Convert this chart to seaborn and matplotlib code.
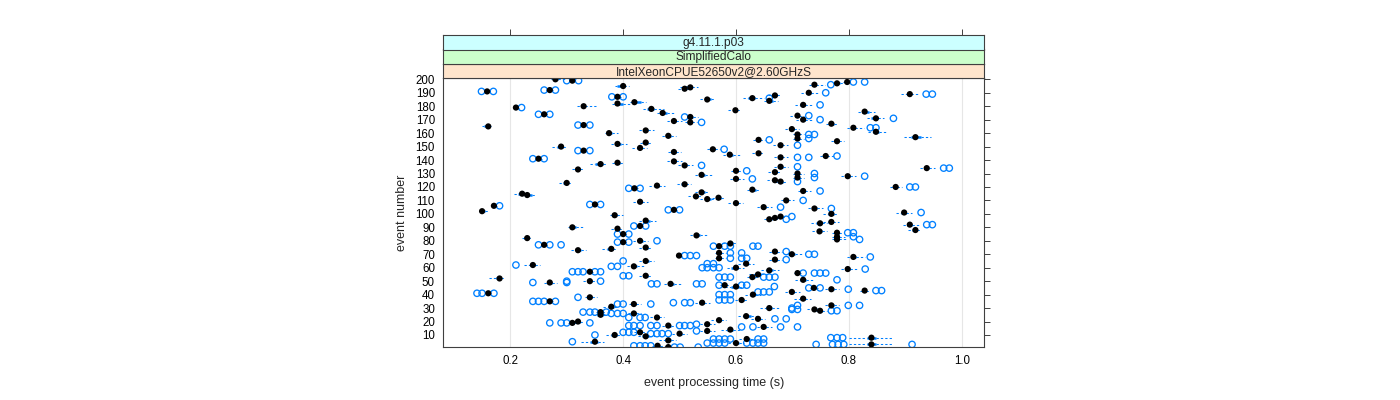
import matplotlib
matplotlib.use("Agg")
import matplotlib.pyplot as plt
import seaborn as sns
import pandas as pd

# ---------------- data ----------------
events = [200,199,198,197,196,195,194,193,192,191,
          190,189,188,187,186,185,184,183,182,181,
          180,179,178,177,176,175,174,173,172,171,
          170,169,168,167,166,165,164,163,162,161,
          160,159,158,157,156,155,154,153,152,151,
          150,149,148,147,146,145,144,143,142,141,
          139,138,137,136,135,134,133,132,131,130,
          129,128,127,126,125,124,123,122,121,120,
          119,118,117,116,115,114,113,112,111,110,
          109,108,107,106,105,104,103,102,101,100,
          99,98,97,96,95,94,93,92,91,90,
          89,88,87,86,85,84,83,82,81,80,
          79,78,77,76,75,74,73,72,71,70,
          69,68,67,66,65,63,62,61,60,59,
          58,57,56,55,54,53,52,51,50,49,
          48,47,46,45,44,43,42,41,40,38,
          37,36,35,34,33,32,31,30,29,28,
          27,26,25,24,23,22,21,20,19,18,
          17,16,14,13,12,11,10,9,8,7,
          6,5,4,3,2,1]

medians = [0.280,0.310,0.797,0.779,0.739,0.400,0.519,0.509,0.270,0.159,
           0.729,0.908,0.669,0.390,0.629,0.549,0.659,0.420,0.390,0.719,
           0.330,0.210,0.450,0.599,0.828,0.470,0.260,0.709,0.519,0.848,
           0.719,0.490,0.519,0.769,0.330,0.161,0.808,0.699,0.440,0.848,
           0.375,0.709,0.480,0.918,0.709,0.640,0.779,0.440,0.390,0.679,
           0.290,0.430,0.559,0.330,0.490,0.640,0.589,0.759,0.679,0.250,
           0.490,0.390,0.360,0.509,0.679,0.938,0.320,0.600,0.669,0.709,
           0.539,0.798,0.709,0.600,0.669,0.679,0.300,0.509,0.460,0.883,
           0.420,0.629,0.719,0.539,0.221,0.230,0.529,0.569,0.549,0.689,
           0.430,0.600,0.350,0.171,0.649,0.739,0.490,0.150,0.898,0.769,
           0.385,0.679,0.669,0.659,0.440,0.769,0.749,0.908,0.430,0.310,
           0.390,0.918,0.748,0.779,0.400,0.530,0.779,0.230,0.779,0.430,
           0.400,0.590,0.260,0.570,0.440,0.379,0.320,0.669,0.570,0.699,
           0.499,0.808,0.570,0.669,0.440,0.618,0.240,0.419,0.600,0.798,
           0.659,0.341,0.709,0.639,0.440,0.629,0.181,0.719,0.341,0.270,
           0.484,0.580,0.600,0.738,0.769,0.828,0.699,0.161,0.630,0.341,
           0.719,0.610,0.270,0.540,0.419,0.769,0.379,0.659,0.739,0.749,
           0.360,0.419,0.360,0.618,0.460,0.639,0.570,0.320,0.310,0.549,
           0.480,0.649,0.590,0.549,0.430,0.500,0.385,0.440,0.840,0.619,
           0.480,0.350,0.600,0.840,0.461,0.480]

# box (quartile) extents left / right of the median, in ms
box_left_ms = [3,2,3,2,4,10,10,5,2,2, 5,5,4,2,8,4,3,3,4,5, 5,2,8,5,5,4,2,5,3,8,
               4,4,5,4,2,8,4,4,4,5, 3,3,4,8,3,4,4,3,4,5, 8,5,3,2,4,5,4,3,4,2,
               4,3,10,4,4,4,4,3,4,3, 4,4,3,3,5,4,6,6,6,3, 2,3,4,4,8,4,6,4,4,4,
               4,6,2,3,4,4,2,2,6,6, 3,4,4,4,5,6,8,5,3,3, 5,6,5,3,2,4,3,6,3,4,
               2,5,2,2,5,8,4,3,3,6, 3,4,3,3,4,5,4,4,8,4, 5,2,3,6,5,4,6,6,4,4,
               4,3,8,3,5,3,4,2,6,4, 6,4,2,6,3,4,6,6,5,3, 3,4,6,6,4,4,5,8,3,5,
               4,4,6,5,4,5,6,6,8,5, 6,8,5,8,5,5]
box_right_ms = [5,2,2,6,3,2,3,3,2,2, 4,3,4,2,4,6,6,12,10,4, 3,2,5,3,8,8,2,3,5,4,
                3,4,3,4,2,2,3,4,4,6, 6,3,4,10,3,3,4,4,6,3, 3,3,3,2,3,3,6,3,3,2,
                3,4,5,4,4,4,3,3,3,3, 6,4,3,3,4,4,3,3,4,3, 2,6,4,6,3,8,3,4,6,4,
                4,4,2,2,4,4,2,6,3,4, 5,3,4,4,8,3,3,4,2,6, 3,3,4,3,2,6,4,2,4,5,
                2,5,2,2,4,3,6,3,3,5, 3,5,3,3,5,4,4,6,4,4, 6,2,3,5,4,4,3,5,4,4,
                6,3,5,3,4,3,4,2,4,4, 4,4,2,4,3,4,4,5,4,3, 3,4,4,8,4,4,4,4,3,4,
                4,4,5,4,4,4,5,5,8,5, 5,6,5,8,5,5]
# whisker extents left / right of the median, in ms
whisk_left_ms = [8,6,8,6,10,14,18,12,6,6, 14,16,12,6,16,12,10,8,10,14, 12,5,14,14,12,10,6,14,6,16,
                 12,12,10,10,6,12,12,12,12,14, 8,8,12,20,8,10,10,10,12,14, 16,14,10,6,10,12,12,10,12,6,
                 12,10,18,12,12,12,10,8,12,8, 12,12,8,10,14,10,14,14,14,10, 6,10,10,12,14,8,14,12,12,10,
                 12,14,6,6,12,12,6,5,14,14, 8,12,10,10,12,14,16,12,8,8, 12,14,14,8,6,12,8,10,8,12,
                 6,14,6,6,12,16,12,10,8,14, 6,12,8,10,12,14,16,12,16,12, 14,5,6,16,12,10,18,14,12,10,
                 12,8,20,6,12,8,12,5,14,8, 16,12,5,12,8,12,14,16,14,8, 8,10,14,14,12,12,14,16,8,12,
                 12,12,16,12,10,14,16,14,40,14, 16,24,14,40,10,14]
whisk_right_ms = [18,6,6,20,18,10,14,8,6,6, 16,14,10,6,20,14,16,20,22,16, 22,6,22,10,18,20,6,12,14,14,
                  16,14,12,12,6,4,18,12,14,20, 16,12,14,28,12,12,12,12,16,14, 10,12,12,6,12,10,18,14,14,6,
                  14,12,12,14,14,14,8,10,10,12, 18,14,12,14,12,12,10,12,14,12, 6,14,14,14,10,14,10,10,16,14,
                  14,12,6,6,14,16,6,12,14,12, 14,10,12,14,18,14,12,16,6,18, 10,10,14,10,6,20,14,6,16,14,
                  6,12,6,6,12,10,14,12,12,18, 6,20,12,12,14,14,12,18,14,16, 18,5,6,18,12,10,8,18,12,12,
                  20,8,16,8,14,10,14,5,14,12, 14,12,5,14,12,14,12,18,12,12, 8,12,12,20,12,12,12,10,8,14,
                  12,14,18,14,12,14,14,16,38,14, 14,16,14,38,14,8]

outliers = [[],[0.300,0.321],[0.808,0.828],[],[0.768],[],[],[],[0.260,0.280],[0.149,0.170],
            [0.759],[0.937,0.948],[],[0.380,0.400],[0.659],[],[],[],[],[0.749],
            [],[0.220],[],[],[],[],[0.250,0.270],[0.729],[0.509],[0.879],
            [0.749],[],[0.539],[],[0.320,0.341],[],[0.838,0.848],[],[],[],
            [],[0.729,0.739],[],[],[0.729],[0.659],[],[],[],[0.709],
            [],[],[0.579],[0.320,0.341],[],[],[],[0.779],[0.709,0.729],[0.240,0.260],
            [],[],[],[0.539],[0.709],[0.968,0.978],[],[0.619],[],[0.739],
            [],[0.828],[0.739],[0.629],[],[0.709],[],[],[],[0.908,0.918],
            [0.410,0.430],[],[0.749],[],[],[],[],[],[],[0.719],
            [],[],[0.341,0.360],[0.181],[0.679],[0.769],[0.480,0.500],[],[0.928],[],
            [],[0.699],[],[0.689],[],[],[],[0.938,0.948],[0.419,0.440],[],
            [],[],[],[0.798,0.808],[0.390,0.410],[],[0.808],[],[0.819],[0.460],
            [0.390,0.410],[],[0.250,0.270,0.290],[0.560,0.580,0.590,0.630,0.639],[],[],[],[0.689],[0.590,0.610],[0.729,0.739],
            [0.509,0.519,0.530],[0.838],[0.590,0.610,0.619],[0.689],[0.400],[0.549,0.560],[0.210],[0.379,0.390],[0.540,0.549,0.560,0.570],[0.829],
            [],[0.310,0.320,0.329,0.350,0.360],[0.719,0.739,0.749,0.759],[],[0.400,0.410],[0.570,0.580,0.590,0.649,0.659,0.669],[],[0.779],[0.300,0.360],[0.240,0.300],
            [0.450,0.460,0.530,0.540],[0.570,0.610,0.619],[0.668],[0.729,0.749],[0.799],[0.848,0.858],[0.639,0.649,0.659],[0.141,0.150,0.171],[0.570,0.580,0.590],[0.320],
            [],[0.570,0.580,0.590],[0.240,0.250,0.260,0.280],[0.489,0.509,0.519],[0.390,0.400,0.449],[0.709,0.799,0.819],[],[0.699],[0.699,0.709],[0.769,0.779],
            [0.329,0.341,0.350,0.370],[0.379,0.390,0.400],[],[],[0.410,0.430,0.439],[0.669,0.689],[],[],[0.270,0.290,0.300,0.341],[0.530],
            [0.410,0.419,0.430,0.449,0.460,0.500,0.509,0.519],[0.610,0.630,0.679,0.709],[],[0.530],[0.400,0.410,0.419],[0.449,0.460,0.469,0.480],[0.350],[],[0.768,0.779,0.789],[0.560,0.570,0.580,0.590,0.639,0.649],
            [],[0.310],[0.549,0.560,0.570,0.580,0.619,0.630,0.639,0.649],[0.742,0.771,0.781,0.791,0.912],[0.419,0.430,0.439,0.449],[0.491,0.501,0.533]]

strip_labels = ["IntelXeonCPUE52650v2@2.60GHzS", "SimplifiedCalo", "g4.11.1.p03"]
strip_colors = ["#ffe5cc", "#ccffcc", "#ccffff"]
x_ticks = [0.2, 0.4, 0.6, 0.8, 1.0]
x_ticklabels = ["0.2", "0.4", "0.6", "0.8", "1.0"]
y_ticks = list(range(10, 201, 10))
x_label = "event processing time (s)"
y_label = "event number"

# ---------------- tables ----------------
n = len(events)
assert all(len(a) == n for a in [medians, box_left_ms, box_right_ms,
                                 whisk_left_ms, whisk_right_ms, outliers])
df = pd.DataFrame({"event": events, "median": medians})
df["q1"] = df["median"] - pd.Series(box_left_ms) / 1000.0
df["q3"] = df["median"] + pd.Series(box_right_ms) / 1000.0
df["wlo"] = df["median"] - pd.Series(whisk_left_ms) / 1000.0
df["whi"] = df["median"] + pd.Series(whisk_right_ms) / 1000.0
out_df = pd.DataFrame([(e, t) for e, ts in zip(events, outliers) for t in ts],
                      columns=["event", "time"])

# ---------------- figure ----------------
sns.set_style("white")
plt.rcParams["font.family"] = ["Liberation Sans", "DejaVu Sans"]
BLUE = "#0080ff"
FRAME = "#404040"

fig = plt.figure(figsize=(14, 4), dpi=100)
L, R = 443.3 / 1400, 984 / 1400
B, T = 1 - 346.7 / 400, 1 - 78.3 / 400
ax = fig.add_axes([L, B, R - L, T - B])
XL = (0.0813, 1.0395)
YL = (1.3, 200.75)

for xv in x_ticks:
    ax.axvline(xv, color="#e6e6e6", lw=0.8, zorder=0)

ax.hlines(df["event"], df["wlo"], df["q1"], colors=BLUE, lw=0.75,
          linestyles=(0, (2.2, 2.0)), zorder=1)
ax.hlines(df["event"], df["q3"], df["whi"], colors=BLUE, lw=0.75,
          linestyles=(0, (2.2, 2.0)), zorder=1)
ax.hlines(df["event"], df["q1"], df["q3"], colors=BLUE, lw=1.8, zorder=2)

sns.scatterplot(data=out_df, x="time", y="event", ax=ax, marker="o", s=21,
                fc="none", ec=BLUE, linewidth=0.95, zorder=3, legend=False)
sns.scatterplot(data=df, x="median", y="event", ax=ax, marker="o", s=20,
                color="black", edgecolor="none", linewidth=0, zorder=4,
                legend=False)

ax.set_xlim(*XL)
ax.set_ylim(*YL)
ax.set_xticks(x_ticks)
ax.set_xticklabels(x_ticklabels)
ax.set_yticks(y_ticks)
ax.set_yticklabels([str(v) for v in y_ticks])
ax.tick_params(axis="both", direction="out", length=4, width=0.7,
               color=FRAME, labelsize=8.3, pad=2, labelcolor="black")
ax.tick_params(axis="y", right=True, labelright=False)
for sp in ax.spines.values():
    sp.set_color(FRAME)
    sp.set_linewidth(0.8)
ax.set_xlabel(x_label, fontsize=9)
ax.set_ylabel(y_label, fontsize=9)
ax.xaxis.set_label_coords(0.5, -0.112)
ax.yaxis.set_label_coords(-0.066, 0.5)

# strips
h = 14.4 / 400
for i, (lab, col) in enumerate(zip(strip_labels, strip_colors)):
    sax = fig.add_axes([L, T + i * h, R - L, h])
    sax.set_facecolor(col)
    sax.set_xlim(*XL)
    sax.set_ylim(0, 1)
    sax.set_yticks([])
    for sp in sax.spines.values():
        sp.set_color(FRAME)
        sp.set_linewidth(0.8)
    sax.text(0.5, 0.45, lab, transform=sax.transAxes, ha="center",
             va="center", fontsize=8.6)
    if i == len(strip_labels) - 1:
        sax.set_xticks(x_ticks)
        sax.tick_params(axis="x", top=True, bottom=False, labeltop=False,
                        labelbottom=False, direction="out", length=4.5,
                        width=0.7, color=FRAME)
    else:
        sax.set_xticks([])

fig.savefig("out.png", dpi=100)
